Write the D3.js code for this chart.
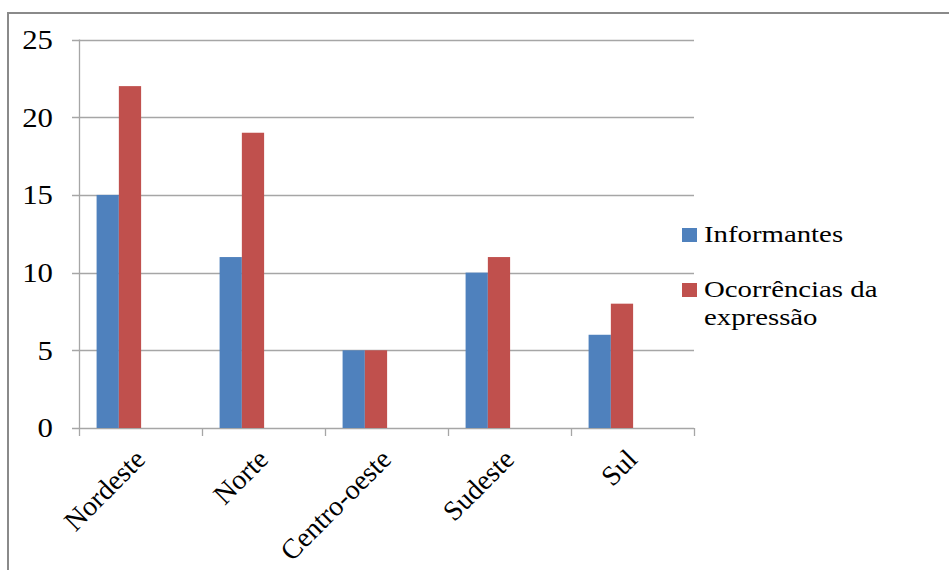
<!DOCTYPE html>
<html>
<head>
<meta charset="utf-8">
<script src="https://cdn.jsdelivr.net/npm/d3@7"></script>
<style>
  html, body { margin: 0; padding: 0; background: #fff; }
  svg { display: block; }
  svg text { font-family: "Liberation Serif", Tinos, serif; fill: #000; }
</style>
</head>
<body>
<script>
// Regional counts: speakers interviewed and occurrences of the expression
const regions = ["Nordeste", "Norte", "Centro-oeste", "Sudeste", "Sul"];
const informantes = [15, 11, 5, 10, 6];
const ocorrencias = [22, 19, 5, 11, 8];
const seriesNames = ["Informantes", "Ocorrências da expressão"];
const seriesColors = ["#4F81BD", "#C0504D"];
const yTicks = [0, 5, 10, 15, 20, 25];

const W = 949, H = 570;
const plot = { left: 79, right: 694, top: 39.5, bottom: 428 };
const WIDE = 1.14;   // horizontal stretch of the text glyphs

const svg = d3.select("body").append("svg")
  .attr("width", W).attr("height", H);

// outer chart frame
svg.append("rect")
  .attr("x", 8).attr("y", 13)
  .attr("width", W + 20).attr("height", H + 20)
  .attr("fill", "none").attr("stroke", "#8a8a8a").attr("stroke-width", 2);

const x = d3.scaleBand().domain(regions).range([plot.left, plot.right]);
const y = d3.scaleLinear().domain([0, 25]).range([plot.bottom, plot.top]);

// horizontal gridlines with short ticks to the left of the axis
svg.append("g").selectAll("line").data(yTicks).join("line")
  .attr("x1", plot.left - 7).attr("x2", plot.right)
  .attr("y1", d => Math.round(y(d)) + 0.5).attr("y2", d => Math.round(y(d)) + 0.5)
  .attr("stroke", "#a6a6a6").attr("stroke-width", 1.3);

// y axis line
svg.append("line")
  .attr("x1", plot.left + 0.5).attr("x2", plot.left + 0.5)
  .attr("y1", y(25)).attr("y2", y(0))
  .attr("stroke", "#a6a6a6").attr("stroke-width", 1.3);

// y tick labels
svg.append("g").selectAll("text").data(yTicks).join("text")
  .attr("transform", d => `translate(53,${y(d)}) scale(${WIDE},1)`)
  .attr("dy", "0.35em")
  .attr("text-anchor", "end")
  .attr("font-size", 27)
  .text(d => d);

// category boundary ticks below the baseline
const bounds = regions.map(r => x(r)).concat([plot.right]);
svg.append("g").selectAll("line").data(bounds).join("line")
  .attr("x1", d => Math.round(d) + 0.5).attr("x2", d => Math.round(d) + 0.5)
  .attr("y1", y(0)).attr("y2", y(0) + 8)
  .attr("stroke", "#a6a6a6").attr("stroke-width", 1.3);

// bars: group starts a fixed fraction into each category band
const groupOffset = x.bandwidth() * 0.143;
const barW = x.bandwidth() * 0.181;
const series = [informantes, ocorrencias];
series.forEach((vals, si) => {
  svg.append("g").selectAll("rect").data(regions).join("rect")
    .attr("x", (d) => x(d) + groupOffset + si * barW)
    .attr("y", (d, i) => y(vals[i]))
    .attr("width", barW)
    .attr("height", (d, i) => y(0) - y(vals[i]))
    .attr("fill", seriesColors[si]);
});

// rotated category labels
svg.append("g").selectAll("text").data(regions).join("text")
  .attr("text-anchor", "end")
  .attr("font-size", 28)
  .attr("transform", d => {
    const cx = x(d) + groupOffset + barW;
    return `translate(${cx + 28},${y(0) + 33}) rotate(-45)`;
  })
  .text(d => d);

// legend
const legend = svg.append("g");
const legendRows = [
  { name: seriesNames[0], color: seriesColors[0], y: 228, lines: ["Informantes"] },
  { name: seriesNames[1], color: seriesColors[1], y: 283, lines: ["Ocorrências da", "expressão"] }
];
legendRows.forEach(r => {
  legend.append("rect")
    .attr("x", 682).attr("y", r.y)
    .attr("width", 15).attr("height", 14)
    .attr("fill", r.color);
  const t = legend.append("text")
    .attr("transform", `translate(704,${r.y + 14}) scale(1.2,1)`)
    .attr("font-size", 24);
  r.lines.forEach((ln, i) => {
    t.append("tspan").attr("x", 0).attr("dy", i === 0 ? 0 : 28.3).text(ln);
  });
});
</script>
</body>
</html>
